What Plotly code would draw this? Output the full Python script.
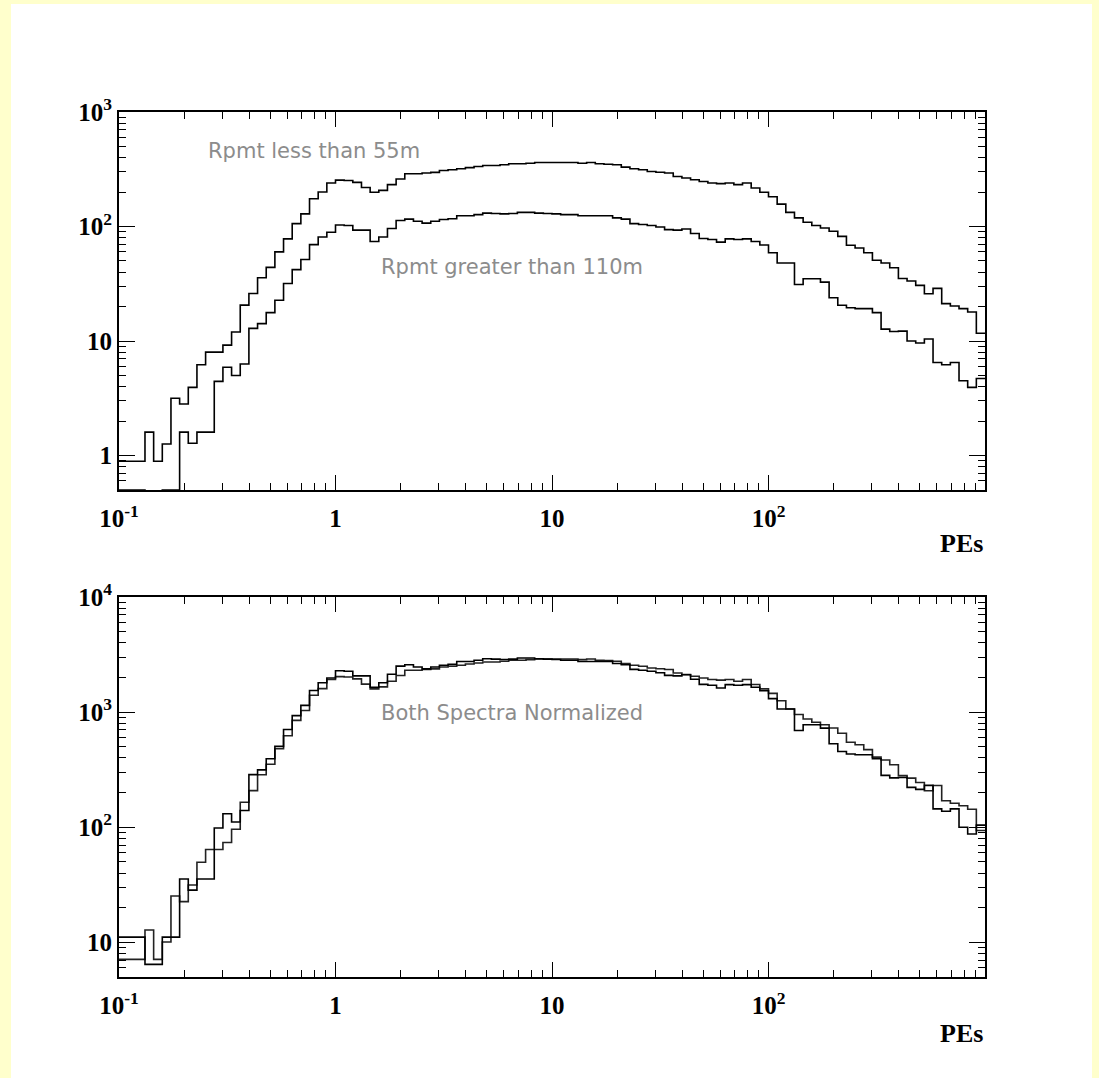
import numpy as np
import plotly.graph_objects as go

# ---------------- data ----------------
# 100 logarithmic bins from 0.1 to 1000 PEs
x_min, x_max, n_bins = 0.1, 1000.0, 100

# Rpmt less than 55m (counts per bin)
rpmt_lt_55 = [
    0.89, 0.89, 0.89, 1.6, 0.89, 1.26, 3.16, 2.82, 3.94, 6.2,
    8.0, 8.0, 9.2, 12.0, 20.6, 26, 35.7, 44, 60, 78,
    106, 129, 175, 200, 240, 254, 252, 243, 219, 199,
    207, 232, 260, 289, 289, 293, 297, 308, 313, 319,
    327, 334, 341, 341, 346, 353, 353, 357, 362, 362,
    362, 362, 362, 357, 362, 353, 350, 346, 330, 319,
    313, 302, 298, 293, 273, 265, 256, 247, 240, 237,
    240, 232, 240, 217, 199, 182, 157, 133, 119, 109,
    102, 97, 91, 82, 68.5, 65, 59, 50.8, 48, 43.6,
    35.2, 33.4, 30.6, 25.9, 28.8, 21.2, 20.2, 19.2, 17.9, 11.7,
]

# Rpmt greater than 110m (counts per bin)
rpmt_gt_110 = [
    0.5, 0.5, 0.5, 0.29, 0.29, 0.5, 0.5, 1.6, 1.28, 1.6,
    1.6, 4.44, 5.9, 5.0, 6.3, 12.9, 14.2, 17.7, 22.7, 31.8,
    42, 51.5, 69.5, 81, 89, 103, 102, 93, 93, 74,
    81, 96, 113, 116, 111, 107, 111, 115, 117, 124,
    124, 127, 131, 130, 129, 130, 133, 133, 131, 130,
    129, 127, 127, 124, 124, 124, 124, 119, 116, 106,
    104, 102, 99, 94, 93, 95, 87, 78.5, 77, 73,
    78, 77, 78, 74, 69, 59, 48, 48, 31.2, 35,
    35, 32.7, 23.9, 20.5, 19.5, 19.2, 19.2, 17.7, 12.7, 12.1,
    12.2, 10, 9.6, 10.4, 6.5, 6.2, 6.5, 4.5, 3.94, 4.7,
]

# normalisation factors used in the lower panel ("Both Spectra Normalized")
norm_lt_55 = 8.0
norm_gt_110 = 22.2

x_ticks = [0.1, 1, 10, 100]
x_ticktext = ["10<sup>-1</sup>", "1", "10", "10<sup>2</sup>"]
y1_ticks = [1, 10, 100, 1000]
y1_ticktext = ["1", "10", "10<sup>2</sup>", "10<sup>3</sup>"]
y2_ticks = [10, 100, 1000, 10000]
y2_ticktext = ["10", "10<sup>2</sup>", "10<sup>3</sup>", "10<sup>4</sup>"]
y1_range = (0.5, 1000)
y2_range = (5, 10000)

label_lt_55 = "Rpmt less than 55m"
label_gt_110 = "Rpmt greater than 110m"
label_norm = "Both Spectra Normalized"
x_title = "PEs"

# ---------------- helpers ----------------
edges = np.logspace(np.log10(x_min), np.log10(x_max), n_bins + 1)


def step_y(vals):
    return list(vals) + [vals[-1]]


def minor_vals(lo, hi):
    out = []
    for d in range(int(np.floor(np.log10(lo))), int(np.ceil(np.log10(hi)))):
        for m in range(2, 10):
            v = m * 10.0 ** d
            if lo <= v <= hi:
                out.append(v)
    return out


W, H = 1099, 1078


def fx(p):
    return p / W


def fy(p):
    return 1 - p / H


fig = go.Figure()
line_style = dict(color="black", width=1.6, shape="hv")

fig.add_trace(go.Scatter(x=edges, y=step_y(rpmt_lt_55), mode="lines",
                         line=line_style, xaxis="x", yaxis="y", showlegend=False))
fig.add_trace(go.Scatter(x=edges, y=step_y(rpmt_gt_110), mode="lines",
                         line=line_style, xaxis="x", yaxis="y", showlegend=False))
fig.add_trace(go.Scatter(x=edges, y=step_y([v * norm_lt_55 for v in rpmt_lt_55]),
                         mode="lines", line=dict(color="#222222", width=1.6, shape="hv"),
                         xaxis="x2", yaxis="y2", showlegend=False))
fig.add_trace(go.Scatter(x=edges, y=step_y([v * norm_gt_110 for v in rpmt_gt_110]),
                         mode="lines", line=line_style,
                         xaxis="x2", yaxis="y2", showlegend=False))

tickfont = dict(family="Liberation Serif", size=25, color="black", weight="bold")


def axis_common(tickvals, ticktext, rng, minors, major_len, standoff):
    return dict(
        type="log", range=[np.log10(rng[0]), np.log10(rng[1])],
        showline=True, linecolor="black", linewidth=2, mirror="ticks",
        ticks="inside", ticklen=major_len, tickwidth=1.2, tickcolor="black",
        tickmode="array", tickvals=tickvals, ticktext=ticktext,
        tickfont=tickfont, showgrid=False, zeroline=False, automargin=False,
        ticklabelstandoff=standoff,
        minor=dict(tickmode="array", tickvals=minors, ticks="inside",
                   ticklen=7, tickwidth=1, tickcolor="black", showgrid=False),
    )


xdom = [fx(119), fx(985)]
xa = axis_common(x_ticks, x_ticktext, (x_min, x_max), minor_vals(x_min, x_max), 15, 5)
ya1 = axis_common(y1_ticks, y1_ticktext, y1_range, minor_vals(*y1_range), 16, 0)
ya2 = axis_common(y2_ticks, y2_ticktext, y2_range, minor_vals(*y2_range), 16, 0)

fig.update_layout(
    width=W, height=H, autosize=False,
    margin=dict(l=0, r=0, t=0, b=0, pad=0, autoexpand=False),
    paper_bgcolor="#FFFFCC", plot_bgcolor="white",
    xaxis=dict(xa, domain=xdom, anchor="y"),
    yaxis=dict(ya1, domain=[fy(490), fy(112)], anchor="x"),
    xaxis2=dict(xa, domain=xdom, anchor="y2"),
    yaxis2=dict(ya2, domain=[fy(977), fy(597)], anchor="x2"),
    shapes=[dict(type="rect", xref="paper", yref="paper",
                 x0=fx(11), x1=fx(1092), y0=0, y1=fy(4),
                 fillcolor="white", line=dict(width=0), layer="below")],
)

note_font = dict(family="DejaVu Sans", size=21, color="#8c8c8c")
title_font = dict(family="Liberation Serif", size=26, color="black", weight="bold")
annos = [
    dict(text=label_lt_55, x=fx(206), y=fy(151), xanchor="left", yanchor="middle", font=note_font),
    dict(text=label_gt_110, x=fx(379), y=fy(267), xanchor="left", yanchor="middle", font=note_font),
    dict(text=label_norm, x=fx(379), y=fy(713), xanchor="left", yanchor="middle", font=note_font),
    dict(text=x_title, x=fx(985), y=fy(543), xanchor="right", yanchor="middle", font=title_font),
    dict(text=x_title, x=fx(985), y=fy(1033), xanchor="right", yanchor="middle", font=title_font),
]
for a in annos:
    a.update(xref="paper", yref="paper", showarrow=False)
fig.update_layout(annotations=annos)

fig.write_html(
    "out.html",
    config={"displayModeBar": False},
    post_script="document.body.style.margin='0';document.body.style.padding='0';"
                "document.documentElement.style.overflow='hidden';",
)
